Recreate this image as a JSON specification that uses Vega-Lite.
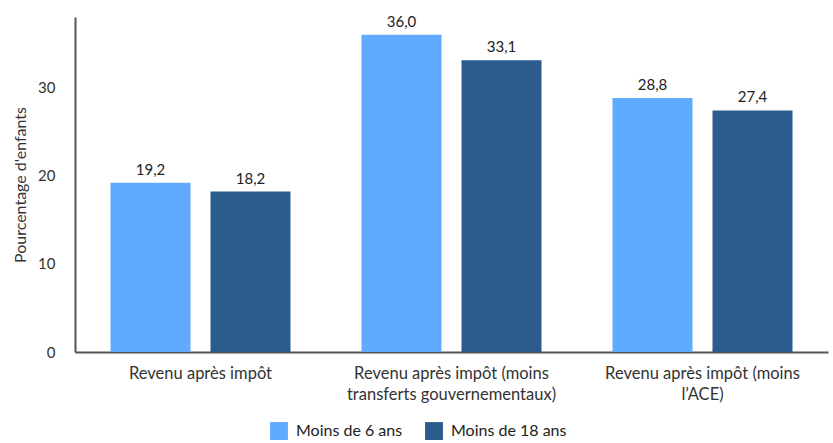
{
  "$schema": "https://vega.github.io/schema/vega-lite/v6.json",
  "autosize": {"type": "none"},
  "width": 753,
  "height": 335,
  "padding": {"left": 75, "top": 17, "right": 5, "bottom": 91},
  "config": {
    "font": "Lato",
    "view": {"stroke": null},
    "locale": {
      "number": {"decimal": ",", "thousands": " ", "grouping": [3], "currency": ["", " €"]}
    }
  },
  "data": {
    "values": [
      {"revenu": "Revenu après impôt", "groupe": "Moins de 6 ans", "pct": 19.2},
      {"revenu": "Revenu après impôt", "groupe": "Moins de 18 ans", "pct": 18.2},
      {"revenu": "Revenu après impôt (moins|transferts gouvernementaux)", "groupe": "Moins de 6 ans", "pct": 36.0},
      {"revenu": "Revenu après impôt (moins|transferts gouvernementaux)", "groupe": "Moins de 18 ans", "pct": 33.1},
      {"revenu": "Revenu après impôt (moins|l’ACE)", "groupe": "Moins de 6 ans", "pct": 28.8},
      {"revenu": "Revenu après impôt (moins|l’ACE)", "groupe": "Moins de 18 ans", "pct": 27.4}
    ]
  },
  "encoding": {
    "x": {
      "field": "revenu",
      "type": "nominal",
      "sort": null,
      "scale": {"paddingInner": 0, "paddingOuter": 0},
      "axis": {
        "title": null,
        "labelAngle": 0,
        "labelExpr": "split(datum.label, '|')",
        "labelFontSize": 16.5,
        "labelColor": "#333333",
        "labelPadding": 13,
        "labelLineHeight": 21,
        "labelLimit": 400,
        "ticks": false,
        "domainColor": "#555555",
        "domainWidth": 2
      }
    },
    "xOffset": {
      "field": "groupe",
      "type": "nominal",
      "sort": ["Moins de 6 ans", "Moins de 18 ans"],
      "scale": {"paddingInner": 0.2, "paddingOuter": 0.355}
    },
    "y": {
      "field": "pct",
      "type": "quantitative",
      "scale": {"domain": [0, 38], "nice": false},
      "axis": {
        "title": "Pourcentage d'enfants",
        "titleFontSize": 16,
        "titleFontWeight": "normal",
        "titleColor": "#333333",
        "titlePadding": 9,
        "values": [0, 10, 20, 30],
        "grid": false,
        "ticks": false,
        "labelFontSize": 15,
        "labelColor": "#333333",
        "labelPadding": 20,
        "domainColor": "#555555",
        "domainWidth": 2
      }
    }
  },
  "layer": [
    {
      "mark": {"type": "bar"},
      "encoding": {
        "color": {
          "field": "groupe",
          "type": "nominal",
          "sort": ["Moins de 6 ans", "Moins de 18 ans"],
          "scale": {"domain": ["Moins de 6 ans", "Moins de 18 ans"], "range": ["#60aaff", "#2c5b8e"]},
          "legend": {
            "title": null,
            "orient": "none",
            "legendX": 195,
            "legendY": 405,
            "direction": "horizontal",
            "symbolType": "square",
            "symbolSize": 320,
            "symbolStrokeWidth": 0,
            "labelFontSize": 16,
            "labelColor": "#222222",
            "labelOffset": 8,
            "columnPadding": 22
          }
        }
      }
    },
    {
      "mark": {"type": "text", "baseline": "bottom", "dy": -5, "fontSize": 15, "color": "#222222"},
      "encoding": {
        "text": {"field": "pct", "type": "quantitative", "format": ".1f"}
      }
    }
  ]
}
